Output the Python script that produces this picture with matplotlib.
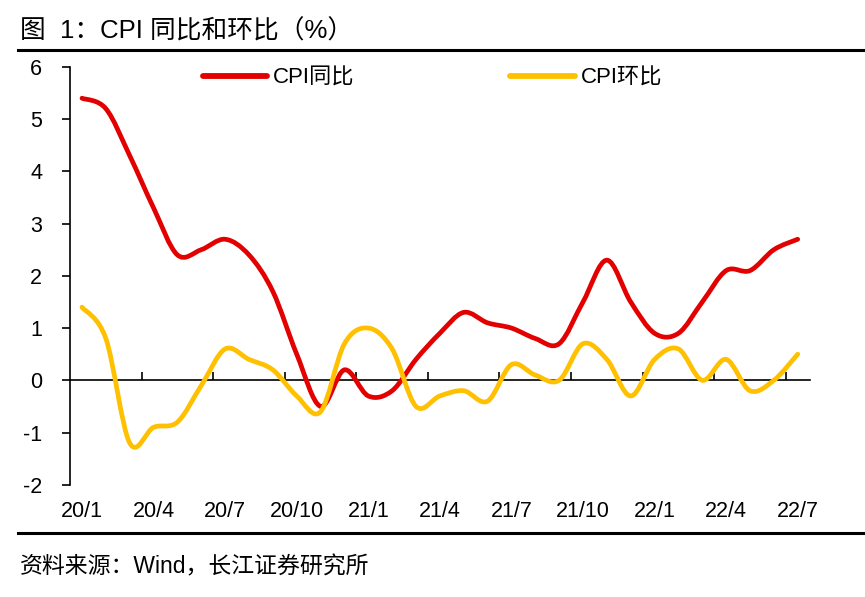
import matplotlib
matplotlib.use("Agg")
import matplotlib.pyplot as plt
import numpy as np
from matplotlib.path import Path
from matplotlib.patches import PathPatch
from matplotlib.lines import Line2D
import matplotlib.transforms as mtransforms

plt.rcParams['font.family'] = ['Liberation Sans', 'Noto Sans CJK SC', 'DejaVu Sans']
plt.rcParams['axes.unicode_minus'] = False

# ------------------------------- data (monthly, 2020/1 .. 2022/7)
months = ['20/1', '20/2', '20/3', '20/4', '20/5', '20/6', '20/7', '20/8', '20/9', '20/10', '20/11', '20/12',
          '21/1', '21/2', '21/3', '21/4', '21/5', '21/6', '21/7', '21/8', '21/9', '21/10', '21/11', '21/12',
          '22/1', '22/2', '22/3', '22/4', '22/5', '22/6', '22/7']
cpi_yoy = [5.4, 5.2, 4.3, 3.3, 2.4, 2.5, 2.7, 2.4, 1.7, 0.5, -0.5, 0.2,
           -0.3, -0.2, 0.4, 0.9, 1.3, 1.1, 1.0, 0.8, 0.7, 1.5, 2.3, 1.5,
           0.9, 0.9, 1.5, 2.1, 2.1, 2.5, 2.7]
cpi_mom = [1.4, 0.8, -1.2, -0.9, -0.8, -0.1, 0.6, 0.4, 0.2, -0.3, -0.6, 0.7,
           1.0, 0.6, -0.5, -0.3, -0.2, -0.4, 0.3, 0.1, 0.0, 0.7, 0.4, -0.3,
           0.4, 0.6, 0.0, 0.4, -0.2, 0.0, 0.5]

RED = '#E20000'
YELLOW = '#FFC000'


def smooth_path(xs, ys):
    # Excel-like smoothed line: Catmull-Rom segments as cubic Bezier curves
    pts = np.column_stack([xs, ys]).astype(float)
    n = len(pts)
    verts = [pts[0]]
    codes = [Path.MOVETO]
    for i in range(n - 1):
        p0 = pts[i - 1] if i > 0 else pts[i]
        p1 = pts[i]
        p2 = pts[i + 1]
        p3 = pts[i + 2] if i + 2 < n else pts[i + 1]
        c1 = p1 + (p2 - p0) / 6.0
        c2 = p2 - (p3 - p1) / 6.0
        verts += [c1, c2, p2]
        codes += [Path.CURVE4] * 3
    return Path(verts, codes)


fig = plt.figure(figsize=(8.65, 5.97), dpi=100)
ax = fig.add_axes([0.081, 0.188, 0.855, 0.700])

x = np.arange(len(months))
ax.add_patch(PathPatch(smooth_path(x, cpi_yoy), fill=False, edgecolor=RED, lw=3.4,
                       capstyle='round', joinstyle='round', zorder=3))
ax.add_patch(PathPatch(smooth_path(x, cpi_mom), fill=False, edgecolor=YELLOW, lw=3.4,
                       capstyle='round', joinstyle='round', zorder=4))

ax.set_xlim(-0.5, len(months) - 0.5)
ax.set_ylim(-2, 6)
ax.set_yticks(range(-2, 7))
ax.tick_params(axis='y', direction='out', length=6, width=1.2, labelsize=15.5, pad=14)

for s in ['top', 'right']:
    ax.spines[s].set_visible(False)
ax.spines['left'].set_linewidth(1.2)
ax.spines['bottom'].set_position(('data', 0))
ax.spines['bottom'].set_linewidth(1.2)

# ticks between categories, every 3 months
ax.set_xticks(np.arange(2.5, len(months) - 0.5, 3))
ax.set_xticklabels([])
ax.tick_params(axis='x', direction='in', length=6, width=1.2)

trans = mtransforms.blended_transform_factory(ax.transData, ax.transAxes)
for i in range(0, len(months), 3):
    ax.text(i, -0.065, months[i], transform=trans, ha='center', va='center', fontsize=15.5)

handles = [Line2D([], [], color=RED, lw=4.2, solid_capstyle='round'),
           Line2D([], [], color=YELLOW, lw=4.2, solid_capstyle='round')]
ax.legend(handles, ['CPI同比', 'CPI环比'], loc='upper center', bbox_to_anchor=(0.49, 1.045),
          ncol=2, frameon=False, fontsize=16, handlelength=2.9, handletextpad=0.27,
          columnspacing=7.0)

# header / footer
fig.text(0.023, 0.948, '图  1：CPI 同比和环比（%）', fontsize=18.5, ha='left', va='center')
fig.add_artist(Line2D([0.021, 1.0], [0.916, 0.916], color='black', lw=2.2, transform=fig.transFigure))
fig.add_artist(Line2D([0.021, 1.0], [0.107, 0.107], color='black', lw=2.2, transform=fig.transFigure))
fig.text(0.023, 0.050, '资料来源：Wind，长江证券研究所', fontsize=16.5, ha='left', va='center')

fig.savefig('out.png', dpi=100)
